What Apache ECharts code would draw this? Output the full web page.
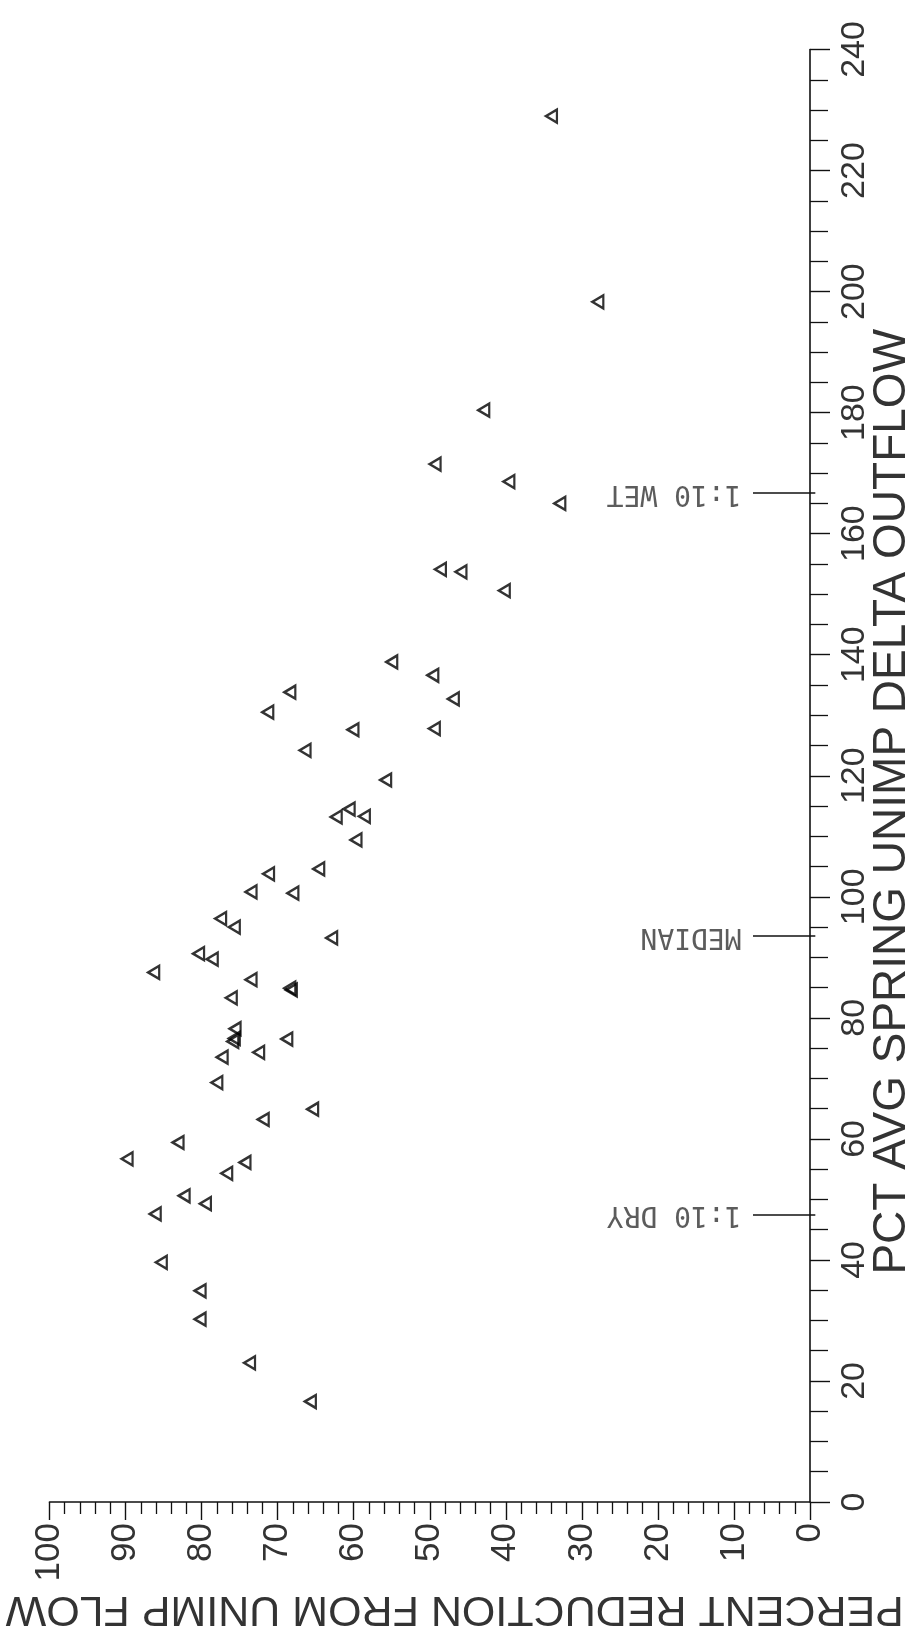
<!DOCTYPE html>
<html>
<head>
<meta charset="utf-8">
<script src="https://cdn.jsdelivr.net/npm/echarts@6/dist/echarts.min.js"></script>
<style>
html,body{margin:0;padding:0;background:#fff;}
#chart{width:911px;height:1652px;}
</style>
</head>
<body>
<div id="chart"></div>
<script>
// ---- data ----
// x of the original plot: PCT AVG SPRING UNIMP DELTA OUTFLOW
const outflow = [229.0,198.3,180.4,171.5,168.6,165.0,154.1,153.7,150.6,
  138.8,136.6,133.8,132.7,130.5,127.6,127.8,124.2,119.3,113.2,
  114.5,113.3,109.4,103.8,104.6,100.8,100.6,96.4,95.0,93.2,
  90.6,89.7,87.5,86.3,84.6,84.9,83.3,78.2,76.1,76.6,
  76.5,73.5,74.3,69.3,64.9,63.2,59.4,56.7,56.1,54.3,
  50.6,49.3,47.6,39.6,34.9,30.2,23.0,16.6];
// y of the original plot: PERCENT REDUCTION FROM UNIMP FLOW
const reduction = [34.0,27.9,42.9,49.3,39.6,32.9,48.6,45.9,40.2,
  55.0,49.6,68.4,46.9,71.3,60.1,49.4,66.4,55.8,62.3,
  60.6,58.6,59.7,71.2,64.6,73.5,68.0,77.5,75.7,62.9,
  80.4,78.6,86.3,73.5,68.2,68.4,76.1,75.6,75.9,75.7,
  68.8,77.3,72.5,78.0,65.4,71.9,83.1,89.8,74.3,76.7,
  82.3,79.5,86.1,85.3,80.2,80.2,73.7,65.7];
const reductionTicks = [0,10,20,30,40,50,60,70,80,90,100];
const outflowTicks = [0,20,40,60,80,100,120,140,160,180,200,220,240];
const annoLabels = ['1:10 DRY','MEDIAN','1:10 WET'];
const annoValues = [47.5, 93.5, 166.7];

// ---- chart ----
const INK = '#111111';
const TXT = '#333333';
const FONT = "'Liberation Sans', Arial, sans-serif";
const MONO = "'DejaVu Sans Mono', 'Liberation Mono', monospace";

const points = outflow.map((o, i) => [reduction[i], o]);
const annoLines = annoValues.map(v => ({coords: [[7.5, v], [-0.7, v]]}));
const annoText = annoValues.map((v, i) => ({value: [9.0, v], name: annoLabels[i]}));

const chart = echarts.init(document.getElementById('chart'), null, {renderer: 'canvas'});
chart.setOption({
  backgroundColor: '#ffffff',
  animation: false,
  grid: {left: 49.5, right: 101, top: 49.5, bottom: 150, containLabel: false, outerBoundsMode: 'none'},
  xAxis: {
    type: 'value',
    min: reductionTicks[0],
    max: reductionTicks[reductionTicks.length - 1],
    interval: reductionTicks[1] - reductionTicks[0],
    inverse: true,
    position: 'bottom',
    splitLine: {show: false},
    axisLine: {show: true, onZero: false, lineStyle: {color: INK, width: 1.6}},
    axisTick: {show: true, length: 18, lineStyle: {color: INK, width: 1.4}},
    minorTick: {show: true, splitNumber: 5, length: 12, lineStyle: {color: INK, width: 1.3}},
    axisLabel: {rotate: 90, margin: 21, fontSize: 35, fontFamily: FONT, color: TXT},
    name: 'PERCENT REDUCTION FROM UNIMP FLOW',
    nameLocation: 'middle',
    nameRotate: 180,
    nameGap: 85,
    nameMoveOverlap: false,
    nameTextStyle: {fontSize: 43, fontFamily: FONT, color: TXT, padding: [0, 50, 0, 0]}
  },
  yAxis: {
    type: 'value',
    min: outflowTicks[0],
    max: outflowTicks[outflowTicks.length - 1],
    interval: outflowTicks[1] - outflowTicks[0],
    position: 'right',
    splitLine: {show: false},
    axisLine: {show: true, onZero: false, lineStyle: {color: INK, width: 1.6}},
    axisTick: {show: true, length: 20, lineStyle: {color: INK, width: 1.4}},
    minorTick: {show: true, splitNumber: 4, length: 18, lineStyle: {color: INK, width: 1.3}},
    axisLabel: {rotate: 90, margin: 28, fontSize: 34, fontFamily: FONT, color: TXT},
    name: 'PCT AVG SPRING UNIMP DELTA OUTFLOW',
    nameLocation: 'middle',
    nameRotate: 90,
    nameGap: 59,
    nameMoveOverlap: false,
    nameTextStyle: {fontSize: 46, fontFamily: FONT, color: TXT, padding: [0, 52, 0, 0]}
  },
  series: [
    {
      type: 'scatter',
      data: points,
      symbol: 'triangle',
      symbolRotate: 90,
      symbolSize: [13, 11],
      itemStyle: {color: 'rgba(255,255,255,0)', borderColor: '#000', borderWidth: 2.4},
      z: 3
    },
    {
      type: 'lines',
      coordinateSystem: 'cartesian2d',
      clip: false,
      data: annoLines,
      lineStyle: {color: INK, width: 1.6, opacity: 1},
      z: 4
    },
    {
      type: 'scatter',
      clip: false,
      data: annoText,
      symbol: 'circle',
      symbolSize: 0,
      itemStyle: {color: 'rgba(0,0,0,0)'},
      label: {
        show: true,
        position: 'right',
        distance: 0,
        rotate: 180,
        formatter: p => p.name,
        fontFamily: MONO,
        fontSize: 28,
        color: TXT
      },
      z: 4
    }
  ]
});
</script>
</body>
</html>
